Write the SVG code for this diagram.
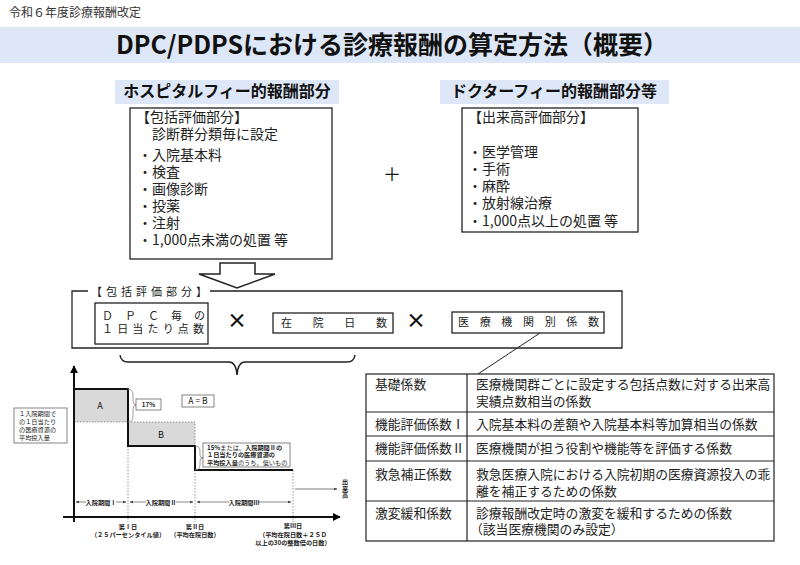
<svg xmlns="http://www.w3.org/2000/svg" width="800" height="565" viewBox="0 0 800 565">
<defs>
<style>
text{font-family:"Noto Sans CJK JP","Noto Sans",sans-serif;fill:#111}
.hd{font-size:12px;fill:#333}
.ttl{font-size:25px;font-weight:bold}
.sub{font-size:16px;font-weight:bold}
.bx{font-size:14px;fill:#222}
.box{fill:#fff;stroke:#222;stroke-width:1.3}
.sp{font-size:11px;fill:#222}
.tb{font-size:12.8px;fill:#222}
.g{font-size:6.2px;fill:#222}
.gb{font-size:6.2px;font-weight:bold;fill:#222}
.sbox{fill:#fff;stroke:#666;stroke-width:0.8}
.dot{stroke:#888;stroke-width:0.9;stroke-dasharray:1.5 1.5;fill:none}
.br{fill:none;stroke:#888;stroke-width:0.8}
.band{fill:#dde7f7}
</style>
<marker id="ah" viewBox="0 0 10 10" refX="9" refY="5" markerWidth="4" markerHeight="4" orient="auto"><path d="M0,0 L10,5 L0,10 z" fill="#000"/></marker>
<marker id="sa" viewBox="0 0 10 10" refX="9" refY="5" markerWidth="5" markerHeight="5" orient="auto-start-reverse"><path d="M0,1 L10,5 L0,9 z" fill="#444"/></marker>
</defs>
<rect width="800" height="565" fill="#fff"/>
<text class="hd" x="9" y="17">令和６年度診療報酬改定</text>
<rect class="band" x="0" y="27" width="800" height="36"/>
<text class="ttl" x="392" y="54" text-anchor="middle">DPC/PDPSにおける診療報酬の算定方法（概要）</text>

<g id="hospital-fee">
<rect class="band" x="115" y="80" width="224" height="24"/>
<text class="sub" x="227" y="97" text-anchor="middle">ホスピタルフィー的報酬部分</text>
<rect class="box" x="130" y="108" width="202" height="151"/>
<text class="bx" x="136" y="122">【包括評価部分】</text>
<text class="bx" x="152" y="139">診断群分類毎に設定</text>
<text class="bx" x="138" y="160">・入院基本料</text>
<text class="bx" x="138" y="177">・検査</text>
<text class="bx" x="138" y="194">・画像診断</text>
<text class="bx" x="138" y="211">・投薬</text>
<text class="bx" x="138" y="228">・注射</text>
<text class="bx" x="138" y="245">・1,000点未満の処置 等</text>
</g>

<g id="doctor-fee">
<rect class="band" x="440" y="80" width="229" height="24"/>
<text class="sub" x="554" y="97" text-anchor="middle">ドクターフィー的報酬部分等</text>
<rect class="box" x="462" y="108" width="176" height="124"/>
<text class="bx" x="468" y="122">【出来高評価部分】</text>
<text class="bx" x="468" y="157">・医学管理</text>
<text class="bx" x="468" y="174">・手術</text>
<text class="bx" x="468" y="191">・麻酔</text>
<text class="bx" x="468" y="208">・放射線治療</text>
<text class="bx" x="468" y="226">・1,000点以上の処置 等</text>
</g>

<g id="plus"><text x="392" y="181" font-size="18" text-anchor="middle">＋</text></g>

<g id="formula">
<path d="M88,291 H72 V348 H622 V291 H210" fill="none" stroke="#222" stroke-width="1.3"/>
<text class="sp" x="91" y="296" font-size="10" textLength="116" lengthAdjust="spacing">【包括評価部分】</text>
<rect class="box" x="95" y="303" width="113" height="41"/>
<text class="sp" x="102" y="320" textLength="103" lengthAdjust="spacing">ＤＰＣ毎の</text>
<text class="sp" x="102" y="333" textLength="102" lengthAdjust="spacing">１日当たり点数</text>
<text x="237" y="328" font-size="20" font-weight="bold" text-anchor="middle">×</text>
<rect class="box" x="273" y="313" width="120" height="20"/>
<text class="sp" x="281" y="327" textLength="106" lengthAdjust="spacing">在院日数</text>
<text x="416" y="328" font-size="20" font-weight="bold" text-anchor="middle">×</text>
<rect class="box" x="452" y="312" width="152" height="21"/>
<text class="sp" x="458" y="326" textLength="141" lengthAdjust="spacing">医療機関別係数</text>
</g>

<g id="connectors" fill="none" stroke="#222">
<polygon points="220,263 255,263 255,274 275,274 237,288 199,274 220,274" fill="#fff" stroke-width="1.5"/>
<path d="M120,355 Q121,362 128,362 H229 Q236,362 237,375 Q238,362 245,362 H347 Q354,362 355,355" stroke-width="1.5"/>
<line x1="540" y1="333" x2="478" y2="374" stroke-width="1"/>
</g>

<g id="coef-table">
<rect x="366" y="374" width="408" height="167" fill="#fff" stroke="#222" stroke-width="1.2"/>
<path d="M366,412 H774 M366,436 H774 M366,461 H774 M366,501 H774 M467,374 V541" stroke="#222" stroke-width="1.2"/>
<text class="tb" x="375" y="389">基礎係数</text>
<text class="tb" x="476" y="389">医療機関群ごとに設定する包括点数に対する出来高</text>
<text class="tb" x="476" y="406">実績点数相当の係数</text>
<text class="tb" x="375" y="429">機能評価係数Ⅰ</text>
<text class="tb" x="476" y="429">入院基本料の差額や入院基本料等加算相当の係数</text>
<text class="tb" x="375" y="453">機能評価係数Ⅱ</text>
<text class="tb" x="476" y="453">医療機関が担う役割や機能等を評価する係数</text>
<text class="tb" x="375" y="479">救急補正係数</text>
<text class="tb" x="476" y="479">救急医療入院における入院初期の医療資源投入の乖</text>
<text class="tb" x="476" y="496">離を補正するための係数</text>
<text class="tb" x="375" y="518">激変緩和係数</text>
<text class="tb" x="476" y="518">診療報酬改定時の激変を緩和するための係数</text>
<text class="tb" x="470" y="534">（該当医療機関のみ設定）</text>
</g>

<g id="chart">
<rect x="74" y="389" width="54" height="33" fill="#d9d9d9"/>
<rect x="128" y="422" width="67" height="24" fill="#d9d9d9"/>
<path class="dot" d="M74,422 H195 V446"/>
<path class="dot" d="M128,446 V522 M195,470 V522 M293,470 V522"/>
<polyline points="74,389 128,389 128,446 195,446 195,470 293,470" fill="none" stroke="#111" stroke-width="2"/>
<line x1="74" y1="522" x2="74" y2="366" stroke="#111" stroke-width="2" marker-end="url(#ah)"/>
<line x1="63" y1="517" x2="340" y2="517" stroke="#111" stroke-width="2" marker-end="url(#ah)"/>
<text x="100" y="409" font-size="9" text-anchor="middle">A</text>
<text x="161" y="438" font-size="9" text-anchor="middle">B</text>
<path class="br" d="M128,389 Q133,389 133,395 V401 Q133,405 137,405 Q133,405 133,409 V416 Q133,422 128,422"/>
<rect class="sbox" x="136" y="399" width="25" height="11"/>
<text class="gb" x="148.5" y="407" text-anchor="middle">17%</text>
<rect class="sbox" x="182" y="395" width="32" height="12"/>
<text x="198" y="404" font-size="8.5" text-anchor="middle">A = B</text>
<path class="br" d="M195,446 Q200,446 200,451 V455 Q200,458 203,458 Q200,458 200,461 V465 Q200,470 195,470"/>
<rect class="sbox" x="203" y="443" width="87" height="24"/>
<text class="g" x="207" y="450.2"><tspan font-weight="bold">15%</tspan>または、<tspan font-weight="bold">入院期間Ⅱの</tspan></text>
<text class="gb" x="207" y="457.4">１日当たりの医療資源の</text>
<text class="g" x="207" y="464.6"><tspan font-weight="bold">平均投入量</tspan>のうち、低いもの</text>
<rect class="sbox" x="14" y="408" width="53" height="35"/>
<text class="g" x="19" y="416" font-size="7">１入院期間で</text>
<text class="g" x="19" y="424" font-size="7">の１日当たり</text>
<text class="g" x="19" y="432" font-size="7">の医療資源の</text>
<text class="g" x="19" y="440" font-size="7">平均投入量</text>
<g stroke="#555" stroke-width="0.7">
<line x1="76" y1="502" x2="126" y2="502" marker-start="url(#sa)" marker-end="url(#sa)"/>
<line x1="130" y1="502" x2="193" y2="502" marker-start="url(#sa)" marker-end="url(#sa)"/>
<line x1="197" y1="502" x2="291" y2="502" marker-start="url(#sa)" marker-end="url(#sa)"/>
</g>
<rect x="86" y="499" width="30" height="7" fill="#fff"/>
<rect x="146" y="499" width="30" height="7" fill="#fff"/>
<rect x="229" y="499" width="30" height="7" fill="#fff"/>
<text class="gb" x="101" y="505" text-anchor="middle">入院期間Ⅰ</text>
<text class="gb" x="161" y="505" text-anchor="middle">入院期間Ⅱ</text>
<text class="gb" x="244" y="505" text-anchor="middle">入院期間Ⅲ</text>
<text class="gb" x="128" y="529" text-anchor="middle">第Ⅰ日</text>
<text class="gb" x="128" y="537" text-anchor="middle">（２５パーセンタイル値）</text>
<text class="gb" x="195" y="529" text-anchor="middle">第Ⅱ日</text>
<text class="gb" x="195" y="537" text-anchor="middle">（平均在院日数）</text>
<text class="gb" x="293" y="528" text-anchor="middle">第Ⅲ日</text>
<text class="gb" x="293" y="536.5" text-anchor="middle">（平均在院日数＋２ＳＤ</text>
<text class="gb" x="293" y="544.5" text-anchor="middle">以上の30の整数倍の日数）</text>
<line x1="295" y1="489" x2="337" y2="489" stroke="#444" stroke-width="0.7" marker-end="url(#sa)"/>
<text class="gb" x="345" y="479" style="writing-mode:vertical-rl">出来高</text>
</g>
</svg>
